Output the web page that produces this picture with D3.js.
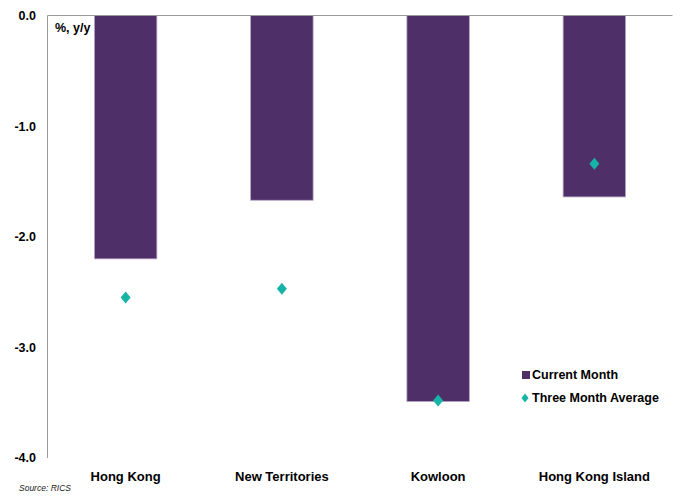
<!DOCTYPE html>
<html>
<head>
<meta charset="utf-8">
<script src="https://cdn.jsdelivr.net/npm/d3@7.9.0/dist/d3.min.js"></script>
<style>
  html, body { margin: 0; padding: 0; background: #fff; }
  svg { display: block; font-family: "Liberation Sans", Arial, sans-serif; }
</style>
</head>
<body>
<svg id="chart" width="682" height="498"></svg>
<script>
// regions and RICS price balances, % y/y
var categories = ['Hong Kong', 'New Territories', 'Kowloon', 'Hong Kong Island']
var currentMonth = [-2.2, -1.67, -3.49, -1.64]
var threeMonthAvg = [-2.55, -2.47, -3.48, -1.34]
var yTicks = [0, -1, -2, -3, -4]

var BAR = '#4e2f68'
var DIAMOND = '#16b3a7'

var svg = d3.select('#chart')
var m = { left: 47.5, top: 15.5, right: 9.5, bottom: 40 }
var W = 682, H = 498
var plotBottom = 458

var x = d3.scaleBand().domain(categories).range([m.left, W - m.right]).padding(0)
var y = d3.scaleLinear().domain([0, -4]).range([m.top, plotBottom])

var barW = x.bandwidth() * 0.4

function diamond(cx, cy, hw, hh) {
    var p = d3.path()
    p.moveTo(cx, cy - hh)
    p.lineTo(cx + hw, cy)
    p.lineTo(cx, cy + hh)
    p.lineTo(cx - hw, cy)
    p.closePath()
    return p.toString()
}

// bars
svg.append('g')
    .selectAll('rect')
    .data(categories)
    .enter()
    .append('rect')
    .attr('x', function (d) { return x(d) + x.bandwidth() / 2 - barW / 2 })
    .attr('y', y(0))
    .attr('width', barW)
    .attr('height', function (d, i) { return y(currentMonth[i]) - y(0) })
    .attr('fill', BAR)
    .attr('stroke', '#b8a6c8')
    .attr('stroke-width', 0.8)

// axes lines (top zero line + left)
svg.append('line')
    .attr('x1', m.left).attr('x2', W - m.right)
    .attr('y1', y(0)).attr('y2', y(0))
    .attr('stroke', '#9a9a9a').attr('stroke-width', 1)
svg.append('line')
    .attr('x1', m.left).attr('x2', m.left)
    .attr('y1', y(0)).attr('y2', y(-4))
    .attr('stroke', '#9a9a9a').attr('stroke-width', 1)

// diamonds
svg.append('g')
    .selectAll('path')
    .data(categories)
    .enter()
    .append('path')
    .attr('d', function (d, i) {
        return diamond(x(d) + x.bandwidth() / 2, y(threeMonthAvg[i]), 5, 6)
    })
    .attr('fill', DIAMOND)

// y tick labels
svg.append('g')
    .selectAll('text')
    .data(yTicks)
    .enter()
    .append('text')
    .attr('x', 36)
    .attr('y', function (d) { return y(d) })
    .attr('dy', '0.35em')
    .attr('text-anchor', 'end')
    .attr('font-size', '12.5px')
    .attr('font-weight', 'bold')
    .attr('fill', '#000')
    .text(function (d) { return d.toFixed(1) })

// category labels
svg.append('g')
    .selectAll('text')
    .data(categories)
    .enter()
    .append('text')
    .attr('x', function (d) { return x(d) + x.bandwidth() / 2 })
    .attr('y', 481)
    .attr('text-anchor', 'middle')
    .attr('font-size', '13px')
    .attr('font-weight', 'bold')
    .attr('fill', '#000')
    .text(function (d) { return d })

// unit label
svg.append('text')
    .attr('x', 55).attr('y', 32)
    .attr('font-size', '12.5px').attr('font-weight', 'bold')
    .text('%, y/y')

// legend
var lg = svg.append('g')
lg.append('rect').attr('x', 522).attr('y', 371).attr('width', 8).attr('height', 8).attr('fill', BAR)
lg.append('text').attr('x', 532).attr('y', 375).attr('dy', '0.35em')
    .attr('font-size', '12.5px').attr('font-weight', 'bold').text('Current Month')
lg.append('path').attr('d', diamond(525, 398, 3.5, 4.5)).attr('fill', DIAMOND)
lg.append('text').attr('x', 532).attr('y', 398).attr('dy', '0.35em')
    .attr('font-size', '12.5px').attr('font-weight', 'bold').text('Three Month Average')

// source
svg.append('text')
    .attr('x', 19).attr('y', 491)
    .attr('font-size', '8.5px').attr('font-style', 'italic')
    .attr('fill', '#222')
    .text('Source: RICS')
</script>
</body>
</html>
